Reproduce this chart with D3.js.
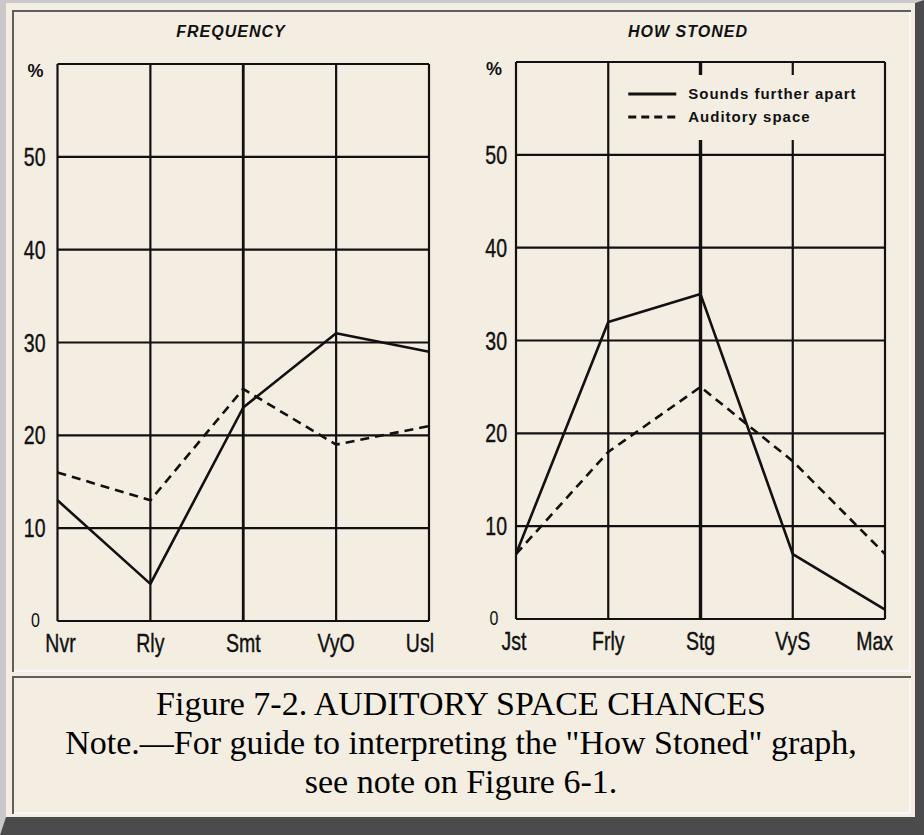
<!DOCTYPE html>
<html>
<head>
<meta charset="utf-8">
<script src="https://cdn.jsdelivr.net/npm/d3@7/dist/d3.min.js"></script>
<style>
  html, body { margin: 0; padding: 0; background: #f4eee2; }
  svg { display: block; }
</style>
</head>
<body>
<div id="chart"></div>
<script>
// ---------- data ----------
const freqCategories = ["Nvr", "Rly", "Smt", "VyO", "Usl"];
const freqSounds = [13, 4, 23, 31, 29];
const freqSpace = [16, 13, 25, 19, 21];

const stonedCategories = ["Jst", "Frly", "Stg", "VyS", "Max"];
const stonedSounds = [7, 32, 35, 7, 1];
const stonedSpace = [7, 18, 25, 17, 7];

const yTicks = [10, 20, 30, 40, 50];
const gridValues = [0, 10, 20, 30, 40, 50, 60];
const panelTitles = ["FREQUENCY", "HOW STONED"];
const legendLabels = ["Sounds further apart", "Auditory space"];
const captionLines = [
  "Figure 7-2. AUDITORY SPACE CHANCES",
  "Note.\u2014For guide to interpreting the \"How Stoned\" graph,",
  "see note on Figure 6-1."
];

// ---------- setup ----------
const W = 924, H = 835;
const INK = "#111";
const BG = "#f4eee2";
const svg = d3.select("#chart").append("svg").attr("width", W).attr("height", H);

svg.append("rect").attr("width", W).attr("height", H).attr("fill", BG);

// outer outset frame
svg.append("polygon")
  .attr("points", "0,0 924,0 915,3 6,3 6,817 0,835")
  .attr("fill", "#c9c9c9");
svg.append("polygon")
  .attr("points", "924,0 924,835 0,835 6,817 915,817 915,3")
  .attr("fill", "#4b4b4b");

// inset cells
function cell(x0, y0, x1, y1) {
  svg.append("rect").attr("x", x0).attr("y", y0).attr("width", x1 - x0).attr("height", y1 - y0).attr("fill", BG);
  svg.append("polyline").attr("points", `${x0+1},${y1} ${x0+1},${y0+1} ${x1},${y0+1}`)
    .attr("fill", "none").attr("stroke", "#5e5e5e").attr("stroke-width", 2);
  svg.append("polyline").attr("points", `${x0+2},${y1-1} ${x1-1},${y1-1} ${x1-1},${y0+2}`)
    .attr("fill", "none").attr("stroke", "#f7f7f5").attr("stroke-width", 2);
}
cell(12, 10, 911, 672);
cell(12, 676, 911, 814);

// ---------- panels ----------
function panel(cfg) {
  const x = d3.scalePoint().domain(cfg.categories).range([cfg.left, cfg.right]);
  const y = d3.scaleLinear().domain([0, 60]).range([cfg.bottom, cfg.top]);
  const g = svg.append("g");

  // horizontal grid
  g.selectAll(".hg").data(gridValues).join("line")
    .attr("x1", cfg.left).attr("x2", cfg.right)
    .attr("y1", d => y(d)).attr("y2", d => y(d))
    .attr("stroke", INK).attr("stroke-width", 2.2);
  // vertical grid
  g.selectAll(".vg").data(cfg.categories).join("line")
    .attr("x1", d => x(d)).attr("x2", d => x(d))
    .attr("y1", y(60)).attr("y2", y(0))
    .attr("stroke", INK).attr("stroke-width", (d, i) => i === 2 ? (cfg.thickMid || 2.2) : 2.2);

  if (cfg.legend) {
    // blank area behind legend
    g.append("rect").attr("x", x(cfg.categories[1]) + 5).attr("y", y(60) + 13)
      .attr("width", cfg.right - x(cfg.categories[1]) - 9).attr("height", 65).attr("fill", BG);
    const lx0 = x(cfg.categories[1]) + 20, lx1 = lx0 + 48;
    const ly = [y(60) + 32, y(60) + 55];
    g.selectAll(".lgl").data(legendLabels).join("line")
      .attr("x1", lx0).attr("x2", lx1).attr("y1", (d, i) => ly[i]).attr("y2", (d, i) => ly[i])
      .attr("stroke", INK).attr("stroke-width", 2.8)
      .attr("stroke-dasharray", (d, i) => i === 1 ? "8,5" : null);
    g.selectAll(".lgt").data(legendLabels).join("text")
      .attr("x", lx1 + 12).attr("y", (d, i) => ly[i] + 5)
      .attr("font-family", "Liberation Sans, Arial, sans-serif")
      .attr("font-weight", "bold").attr("font-size", 15).attr("letter-spacing", 1)
      .attr("fill", INK).text(d => d);
  }

  // data lines
  const line = d3.line().x((d, i) => x(cfg.categories[i])).y(d => y(d));
  g.append("path").datum(cfg.space).attr("d", line)
    .attr("fill", "none").attr("stroke", INK).attr("stroke-width", 2.6)
    .attr("stroke-dasharray", "9,6");
  g.append("path").datum(cfg.sounds).attr("d", line)
    .attr("fill", "none").attr("stroke", INK).attr("stroke-width", 2.6)
    .attr("stroke-linejoin", "round");

  // y tick labels
  const labFont = "Liberation Sans, Arial, sans-serif";
  g.selectAll(".yt").data(yTicks).join("g")
    .attr("transform", d => `translate(${cfg.left - cfg.labelGap},${y(d) + 9}) scale(0.78,1)`)
    .append("text").attr("text-anchor", "end")
    .attr("font-family", labFont).attr("font-size", 25).attr("fill", INK)
    .attr("stroke", INK).attr("stroke-width", 0.4)
    .text(d => d);
  // zero label
  g.append("g").attr("transform", `translate(${cfg.left - 22},${y(0) + 6}) scale(0.8,1)`)
    .append("text").attr("text-anchor", "middle")
    .attr("font-family", labFont).attr("font-size", 20).attr("fill", INK).text("0");
  // percent sign
  g.append("text").attr("x", cfg.left - 22).attr("y", y(60) + 13)
    .attr("text-anchor", "middle").attr("font-family", labFont).attr("font-size", 18)
    .attr("font-weight", "bold").attr("fill", INK).text("%");

  // x labels
  const n = cfg.categories.length;
  g.selectAll(".xt").data(cfg.categories).join("g")
    .attr("transform", (d, i) => `translate(${i === n - 1 ? x(d) + cfg.lastDx : x(d) + (i === 0 ? cfg.firstDx : 0)},${cfg.labelY}) scale(0.78,1)`)
    .append("text").attr("text-anchor", (d, i) => i === n - 1 ? "end" : "middle")
    .attr("font-family", labFont).attr("font-size", 25).attr("fill", INK)
    .attr("stroke", INK).attr("stroke-width", 0.4)
    .text(d => d);

  // title
  g.append("text").attr("x", cfg.titleX).attr("y", 37)
    .attr("text-anchor", "middle").attr("font-family", labFont)
    .attr("font-weight", "bold").attr("font-style", "italic")
    .attr("font-size", 16).attr("letter-spacing", 1).attr("fill", INK)
    .text(cfg.title);
}

panel({
  categories: freqCategories, sounds: freqSounds, space: freqSpace,
  left: 57.5, right: 429, top: 64, bottom: 621, title: panelTitles[0], titleX: 231,
  labelGap: 12, labelY: 652, firstDx: 3, lastDx: 5, thickMid: 2.8
});
panel({
  categories: stonedCategories, sounds: stonedSounds, space: stonedSpace,
  left: 516, right: 885, top: 62, bottom: 619, title: panelTitles[1], titleX: 688,
  labelGap: 9, labelY: 650, firstDx: -2, lastDx: 8, thickMid: 3.4, legend: true
});

// ---------- caption ----------
svg.selectAll(".cap").data(captionLines).join("text")
  .attr("x", 461).attr("y", (d, i) => 715 + i * 39)
  .attr("text-anchor", "middle")
  .attr("font-family", "Liberation Serif, 'Times New Roman', serif")
  .attr("font-size", 34).attr("fill", "#000")
  .text(d => d);
</script>
</body>
</html>
